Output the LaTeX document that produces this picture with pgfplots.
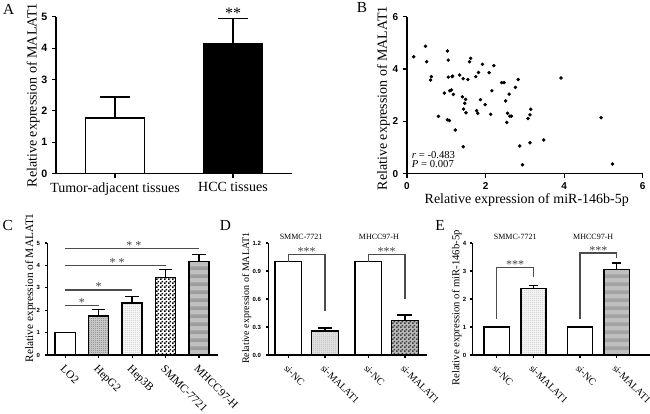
\documentclass[border=0pt]{standalone}
\usepackage{fontspec}
\setmainfont{Liberation Serif}
\setsansfont{Liberation Sans}
\usepackage{pgfplots}
\pgfplotsset{compat=1.18}
\usetikzlibrary{patterns,patterns.meta}

\tikzdeclarepattern{name=finedots, type=uncolored, bounding box={(0pt,0pt) and (1.6pt,1.6pt)}, tile size={(1.6pt,1.6pt)}, code={\fill (0pt,0pt) rectangle (0.7pt,0.7pt);}}
\tikzdeclarepattern{name=fcheck, type=uncolored, bounding box={(0pt,0pt) and (2.6pt,2.6pt)}, tile size={(2.6pt,2.6pt)}, code={\fill (0pt,0pt) rectangle (1.3pt,1.3pt); \fill (1.3pt,1.3pt) rectangle (2.6pt,2.6pt);}}
\tikzdeclarepattern{name=hbands, type=uncolored, bounding box={(0pt,0pt) and (1pt,6pt)}, tile size={(1pt,6pt)}, code={\fill (0pt,0pt) rectangle (1pt,3pt);}}

\newcommand{\fs}[1]{\fontsize{#1}{#1}\selectfont}

\pgfplotsset{
  panel/.style={
    scale only axis, clip=false,
    axis x line*=bottom, axis y line*=left,
    axis line style={line width=1.1pt},
    tick style={line width=0.9pt, black},
    tick align=outside, major tick length=3pt,
    /pgf/number format/assume math mode=true,
    ymin=0,
    yticklabel style={font=\sffamily\bfseries\fs{7.5}},
    ylabel style={anchor=center},
  },
  mybar/.style={ybar, bar shift=0pt, draw=black, line width=1.1pt,
    error bars/y dir=plus, error bars/y explicit,
    error bars/error bar style={line width=1.1pt, black},
    error bars/error mark options={rotate=90, mark size=#1, line width=1.1pt, black}},
}

\pgfplotstableread{
x y
0.17 4.47
0.47 4.87
0.50 4.28
0.62 3.71
0.60 3.58
0.80 2.19
0.95 3.08
1.03 4.69
1.05 4.34
1.05 3.69
1.03 2.06
1.08 2.03
1.09 3.17
1.13 3.20
1.15 3.71
1.16 3.73
1.18 3.03
1.23 1.67
1.34 3.77
1.41 2.94
1.43 3.63
1.44 2.47
1.47 2.69
1.49 2.84
1.50 2.33
1.43 1.03
1.55 3.60
1.59 4.28
1.62 4.41
1.75 3.71
1.77 2.41
1.80 2.31
1.82 3.87
1.87 2.83
1.92 4.18
1.99 2.64
2.09 3.86
2.13 2.27
2.16 3.17
2.21 4.13
2.41 3.48
2.47 3.48
2.51 2.78
2.54 1.96
2.56 2.31
2.60 3.04
2.62 2.20
2.66 2.20
2.76 3.30
2.83 3.60
2.87 1.06
2.94 0.34
3.08 2.11
3.13 2.25
3.15 2.46
3.13 1.18
3.48 1.29
3.92 3.66
4.94 2.14
5.23 0.37
}\scatterdata

\begin{document}
\begin{tikzpicture}
\path[use as bounding box] (0pt,0pt) rectangle (487.5pt,310.5pt);

% ---------- A ----------
\begin{axis}[panel, at={(42pt,180.225pt)}, anchor=south west, width=177pt, height=117.75pt,
  xmin=0, xmax=2, ymin=0, ymax=5,
  ytick={0,1,2,3,4,5},
  y axis line style={black, line width=1.3pt},
  yticklabel style={font=\sffamily\bfseries\fs{8}, color=black},
  xtick={0.5,1.5}, xticklabels={Tumor-adjacent tissues, HCC tissues},
  xticklabel style={font=\fs{10.5}},
  ylabel={Relative expression of MALAT1},
  ylabel style={font=\fs{10.5}, at={(axis description cs:-0.097,0.5)}}]
\addplot[mybar=11.6pt, bar width=0.5, fill=white] coordinates {(0.5,1.78) +- (0,0.67)};
\addplot[mybar=11.6pt, bar width=0.5, fill=black] coordinates {(1.5,4.13) +- (0,0.82)};
\node[font=\fs{12}, anchor=base, inner sep=0pt] at (axis cs:1.5,4.95) {**};
\end{axis}

% ---------- B ----------
\begin{axis}[panel, at={(305.25pt,180.225pt)}, anchor=south west, width=176.8pt, height=117.75pt,
  xmin=0, xmax=6, ymax=6, xtick={0,2,4,6}, ytick={0,2,4,6},
  xticklabel style={font=\sffamily\bfseries\fs{7.5}},
  xlabel={Relative expression of miR-146b-5p},
  xlabel style={font=\fs{10.5}, at={(axis description cs:0.508,-0.167)}, anchor=center},
  ylabel={Relative expression of MALAT1},
  ylabel style={font=\fs{10.5}, at={(axis description cs:-0.1,0.48)}}]
\addplot[only marks, mark=*, mark size=1.1pt, black] table {\scatterdata};
\node[font=\fs{8}, anchor=west, inner sep=0pt] at (axis cs:0.12,0.71) {\textit{r} = -0.483};
\node[font=\fs{8}, anchor=west, inner sep=0pt] at (axis cs:0.12,0.36) {\textit{P} = 0.007};
\end{axis}

% ---------- C ----------
\begin{axis}[panel, at={(35.475pt,44.25pt)}, anchor=south west, width=128pt, height=84pt,
  xmin=-0.537, xmax=4.567, ymax=5, ytick={0,1,2,3,4,5},
  major tick length=2pt,
  xtick={0,1,2,3,4}, xticklabels={LO2,HepG2,Hep3B,SMMC-7721,MHCC97-H},
  xticklabel style={font=\fs{8.5}, rotate=-45, anchor=north west},
  yticklabel style={font=\sffamily\bfseries\fs{4.5}},
  ylabel={Relative expression of MALAT1},
  ylabel style={font=\fs{8.5}, at={(axis description cs:-0.10,0.60)}}]
\addplot[mybar=5pt, bar width=0.6, fill=white] coordinates {(0,1.0)};
\addplot[mybar=5pt, bar width=0.6, fill=gray!45, postaction={pattern=finedots, pattern color=black!65}] coordinates {(1,1.75) +- (0,0.27)};
\addplot[mybar=5pt, bar width=0.6, fill=gray!8, postaction={pattern=finedots, pattern color=gray!60}] coordinates {(2,2.32) +- (0,0.30)};
\addplot[mybar=5pt, bar width=0.6, fill=white, postaction={pattern=fcheck, pattern color=black}] coordinates {(3,3.46) +- (0,0.35)};
\addplot[mybar=5pt, bar width=0.6, fill=gray!50, postaction={pattern=hbands, pattern color=gray!75}] coordinates {(4,4.18) +- (0,0.30)};
\draw[gray!60!black, line width=1pt] (axis cs:0,2.22) -- (axis cs:1,2.22);
\draw[gray!60!black, line width=1pt] (axis cs:0,2.90) -- (axis cs:2,2.90);
\draw[gray!60!black, line width=1pt] (axis cs:0,3.99) -- (axis cs:3,3.99);
\draw[gray!60!black, line width=1pt] (axis cs:0,4.76) -- (axis cs:4,4.76);
\node[font=\fs{9}, anchor=base, inner sep=0pt, gray!50!black] at (axis cs:0.5,2.18) {*};
\node[font=\fs{9}, anchor=base, inner sep=0pt, gray!50!black] at (axis cs:1.0,2.86) {*};
\node[font=\fs{9}, anchor=base, inner sep=0pt, gray!50!black] at (axis cs:1.55,3.95) {* *};
\node[font=\fs{9}, anchor=base, inner sep=0pt, gray!50!black] at (axis cs:2.05,4.72) {* *};
\end{axis}

% ---------- D ----------
\begin{axis}[panel, at={(201.225pt,44.25pt)}, anchor=south west, width=119pt, height=84pt,
  xmin=-0.545, xmax=3.78, ymax=1.2, ytick={0,0.3,0.6,0.9,1.2},
  major tick length=2pt,
  yticklabel style={font=\sffamily\bfseries\fs{4.5}, /pgf/number format/fixed, /pgf/number format/fixed zerofill, /pgf/number format/precision=1},
  xtick={0,1,2.18,3.18}, xticklabels={si-NC,si-MALAT1,si-NC,si-MALAT1},
  xticklabel style={font=\fs{7.5}, rotate=-45, anchor=north west},
  ylabel={Relative expression of MALAT1},
  ylabel style={font=\fs{7.5}, at={(axis description cs:-0.136,0.507)}}]
\addplot[mybar=5.6pt, bar width=0.727, fill=white] coordinates {(0,1.0)};
\addplot[mybar=5.6pt, bar width=0.727, fill=gray!25, postaction={pattern=finedots, pattern color=gray!65}] coordinates {(1,0.255) +- (0,0.035)};
\addplot[mybar=5.6pt, bar width=0.727, fill=white] coordinates {(2.18,1.0)};
\addplot[mybar=5.6pt, bar width=0.727, fill=gray!55, postaction={pattern=fcheck, pattern color=black!75}] coordinates {(3.18,0.367) +- (0,0.063)};
\draw[gray!60!black, line width=0.9pt] (axis cs:0,1.0) -- (axis cs:0,1.074) -- (axis cs:1,1.074) -- (axis cs:1,0.475);
\draw[gray!60!black, line width=0.9pt] (axis cs:2.18,1.0) -- (axis cs:2.18,1.074) -- (axis cs:3.18,1.074) -- (axis cs:3.18,0.6);
\node[font=\fs{9}, anchor=base, inner sep=0pt, gray!50!black] at (axis cs:0.5,1.065) {***};
\node[font=\fs{9}, anchor=base, inner sep=0pt, gray!50!black] at (axis cs:2.68,1.065) {***};
\node[font=\fs{6}, anchor=center, inner sep=0pt] at (axis cs:0.35,1.27) {SMMC-7721};
\node[font=\fs{6}, anchor=center, inner sep=0pt] at (axis cs:2.47,1.27) {MHCC97-H};
\end{axis}

% ---------- E ----------
\begin{axis}[panel, at={(354.225pt,44.25pt)}, anchor=south west, width=133.3pt, height=84pt,
  xmin=-0.67, xmax=4.18, ymax=4, ytick={0,1,2,3,4},
  major tick length=2pt,
  yticklabel style={font=\sffamily\bfseries\fs{4.5}, xshift=1pt},
  xtick={0,1,2.27,3.27}, xticklabels={si-NC,si-MALAT1,si-NC,si-MALAT1},
  xticklabel style={font=\fs{7.5}, rotate=-45, anchor=north west},
  ylabel={Relative expression of miR-146b-5p},
  ylabel style={font=\fs{8}, at={(axis description cs:-0.088,0.42)}}]
\addplot[mybar=3.6pt, bar width=0.69, fill=white] coordinates {(0,1.0)};
\addplot[mybar=3.6pt, bar width=0.69, fill=gray!10, postaction={pattern=finedots, pattern color=gray!60}] coordinates {(1,2.37) +- (0,0.11)};
\addplot[mybar=3.6pt, bar width=0.69, fill=white] coordinates {(2.27,1.0)};
\addplot[mybar=3.6pt, bar width=0.69, fill=gray!50, postaction={pattern=hbands, pattern color=gray!72}] coordinates {(3.27,3.05) +- (0,0.24)};
\draw[gray!60!black, line width=0.9pt] (axis cs:0,1.28) -- (axis cs:0,3.13) -- (axis cs:1,3.13) -- (axis cs:1,2.8);
\draw[gray!60!black, line width=0.9pt] (axis cs:2.27,1.3) -- (axis cs:2.27,3.64) -- (axis cs:3.27,3.64) -- (axis cs:3.27,3.47);
\node[font=\fs{9}, anchor=base, inner sep=0pt, gray!50!black] at (axis cs:0.5,3.1) {***};
\node[font=\fs{9}, anchor=base, inner sep=0pt, gray!50!black] at (axis cs:2.77,3.6) {***};
\node[font=\fs{6}, anchor=center, inner sep=0pt] at (axis cs:0.5,4.22) {SMMC-7721};
\node[font=\fs{6}, anchor=center, inner sep=0pt] at (axis cs:2.63,4.22) {MHCC97-H};
\end{axis}

% panel letters
\node[font=\fs{11.5}] at (6.525pt,303.75pt) {A};
\node[font=\fs{11.5}] at (271.5pt,304.725pt) {B};
\node[font=\fs{11.5}] at (5.775pt,141.525pt) {C};
\node[font=\fs{11.5}] at (169.125pt,141.525pt) {D};
\node[font=\fs{11.5}] at (330pt,141.525pt) {E};
\end{tikzpicture}
\end{document}
